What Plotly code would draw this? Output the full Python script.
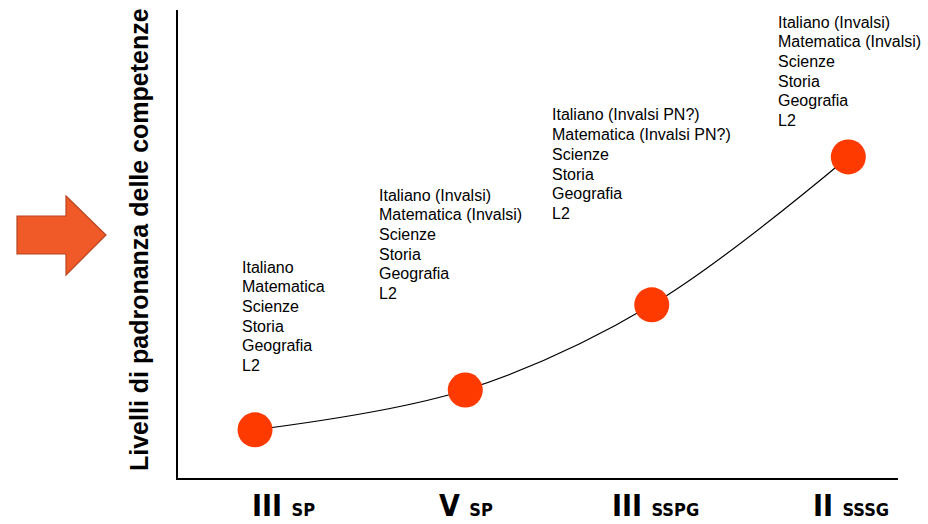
import plotly.graph_objects as go

# ---- data ----
stages = ["III", "V", "III", "II"]
stage_suffix = ["SP", "SP", "SSPG", "SSSG"]
stage_pos = [10.7, 39.9, 65.8, 93.1]      # horizontal position of each stage (0-100)
level = [10.3, 18.8, 37.0, 68.6]          # level of mastery (0-100)
subjects = [
    ["Italiano", "Matematica", "Scienze", "Storia", "Geografia", "L2"],
    ["Italiano (Invalsi)", "Matematica (Invalsi)", "Scienze", "Storia", "Geografia", "L2"],
    ["Italiano (Invalsi PN?)", "Matematica (Invalsi PN?)", "Scienze", "Storia", "Geografia", "L2"],
    ["Italiano (Invalsi)", "Matematica (Invalsi)", "Scienze", "Storia", "Geografia", "L2"],
]
y_title = "Livelli di padronanza delle competenze"

# ---- layout helpers ----
W, H = 928, 524
L, R, T, B = 178, 30, 10, 46
pw, ph = W - L - R, H - T - B

def px(x):
    return (x - L) / pw

def py(y):
    return (H - B - y) / ph

fig = go.Figure()
fig.add_trace(go.Scatter(
    x=stage_pos, y=level, mode="lines+markers",
    line=dict(color="black", width=1.2, shape="spline", smoothing=1.0),
    marker=dict(size=35, color="#FF3A00", line=dict(width=0)),
    hoverinfo="skip", showlegend=False,
))

annotations = []
# subject text blocks (one annotation per line for tight line spacing)
block_left = [242, 379, 552, 778]
block_first = [267, 195, 115, 22]
line_gap = 19.7
for subj, xl, y0 in zip(subjects, block_left, block_first):
    for i, s in enumerate(subj):
        annotations.append(dict(
            xref="paper", yref="paper", x=px(xl - 2), y=py(y0 + i * line_gap),
            xanchor="left", yanchor="middle", align="left",
            text=s, showarrow=False,
            font=dict(family="Liberation Sans, Arial, sans-serif", size=16, color="black"),
        ))

# stage labels (x-axis categories)
label_center = [283, 466, 655, 851]
for s, suf, xc in zip(stages, stage_suffix, label_center):
    annotations.append(dict(
        xref="paper", yref="paper", x=px(xc), y=py(505.5),
        xanchor="center", yanchor="middle", showarrow=False,
        text=f"<b>{s} <span style='font-size:18px'>{suf}</span></b>",
        font=dict(family="Liberation Sans Narrow, DejaVu Sans Condensed, Arial Narrow, sans-serif",
                  size=30, color="black"),
    ))

# y title
annotations.append(dict(
    xref="paper", yref="paper", x=px(139), y=py(240),
    xanchor="center", yanchor="middle", showarrow=False, textangle=-90,
    text=f"<b>{y_title}</b>",
    font=dict(family="Liberation Sans, Arial, sans-serif", size=25, color="black"),
))

# block arrow
pts = [(17, 216), (66, 216), (66, 196), (106, 235), (66, 275), (66, 254), (17, 254)]
path = "M " + " L ".join(f"{px(a):.5f},{py(b):.5f}" for a, b in pts) + " Z"
shapes = [dict(type="path", xref="paper", yref="paper", path=path,
               fillcolor="#F05A28", line=dict(color="#B8451E", width=1.2), layer="above")]

fig.update_layout(
    width=W, height=H,
    margin=dict(l=L, r=R, t=T, b=B),
    paper_bgcolor="white", plot_bgcolor="white",
    xaxis=dict(range=[0, 100], showgrid=False, zeroline=False, showticklabels=False,
               ticks="", showline=True, linecolor="black", linewidth=1.5, mirror=False, fixedrange=True),
    yaxis=dict(range=[0, 100], showgrid=False, zeroline=False, showticklabels=False,
               ticks="", showline=True, linecolor="black", linewidth=1.5, mirror=False, fixedrange=True),
    annotations=annotations,
    shapes=shapes,
)

fig.write_html("out.html", config={"displayModeBar": False},
               post_script="document.body.style.margin='0';")
